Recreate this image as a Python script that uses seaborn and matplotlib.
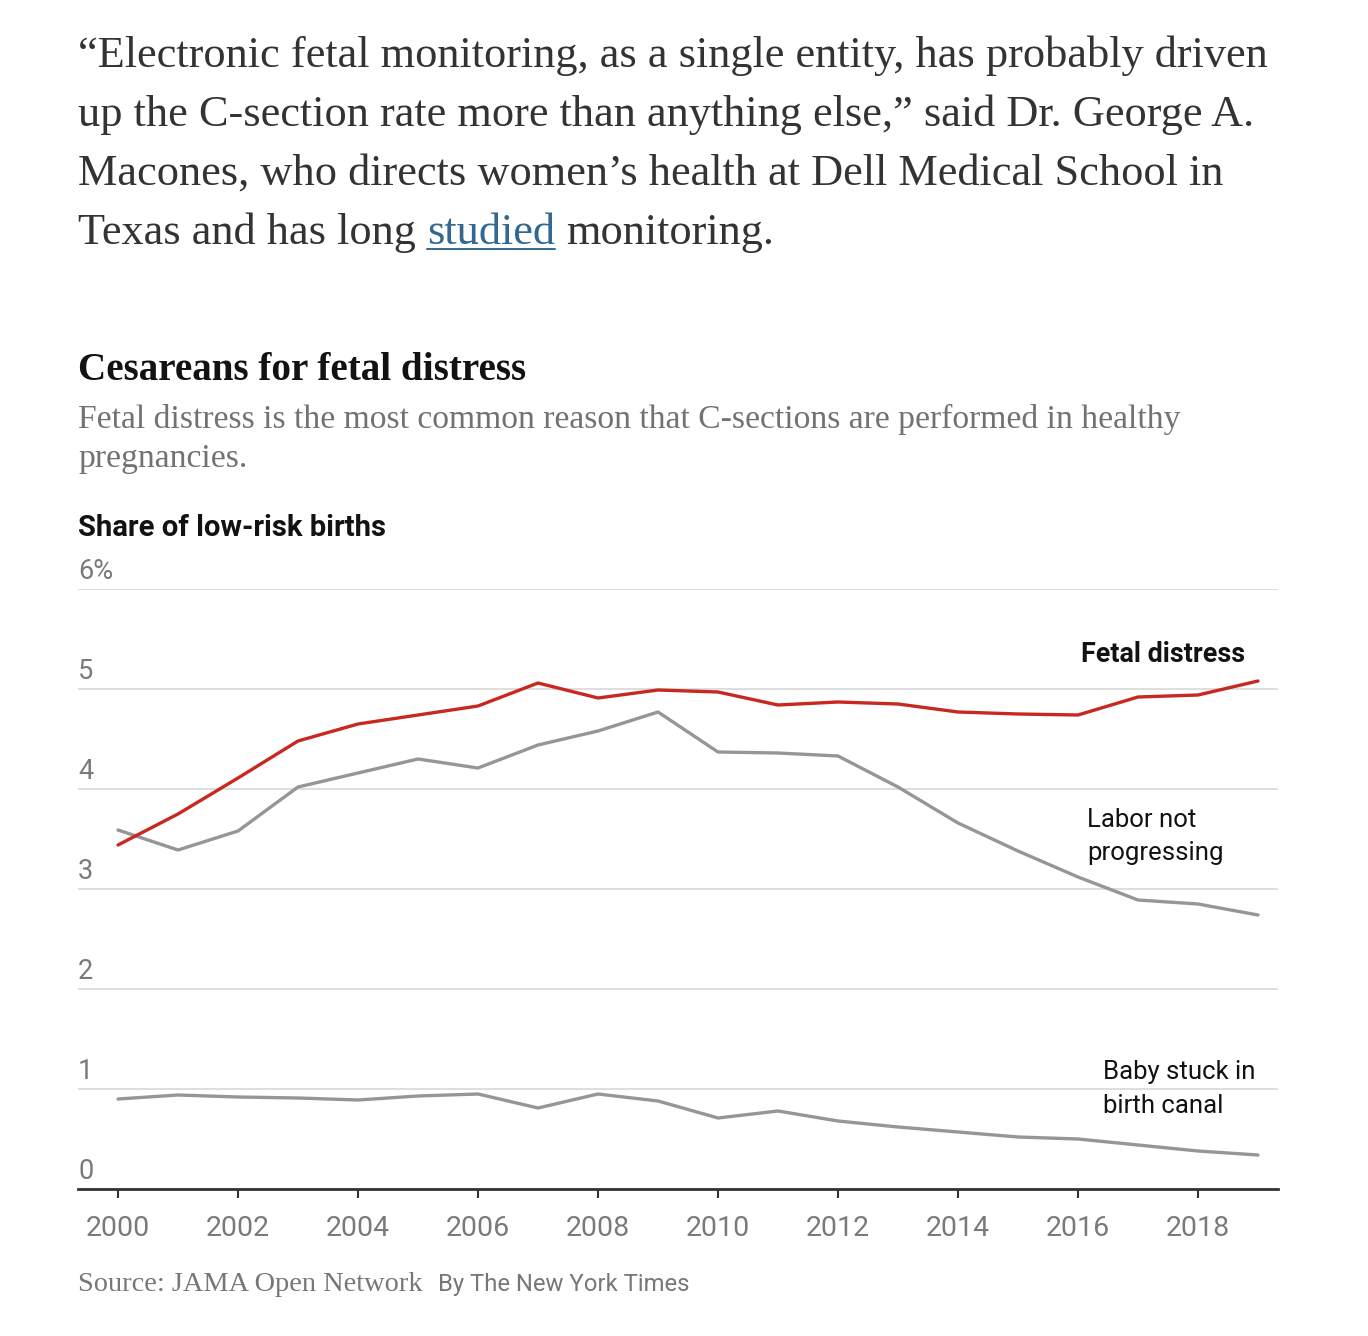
import pandas as pd
import seaborn as sns
import matplotlib.pyplot as plt
from matplotlib.transforms import blended_transform_factory

# values (share of low-risk births, %)
years = list(range(2000, 2020))
fetal_distress = [3.44, 3.75, 4.11, 4.48, 4.65, 4.74, 4.83, 5.06, 4.91, 4.99,
                  4.97, 4.84, 4.87, 4.85, 4.77, 4.75, 4.74, 4.92, 4.94, 5.08]
labor_not_progressing = [3.59, 3.39, 3.58, 4.02, 4.16, 4.30, 4.21, 4.44, 4.58, 4.77,
                         4.37, 4.36, 4.33, 4.02, 3.66, 3.38, 3.12, 2.89, 2.85, 2.74]
baby_stuck = [0.90, 0.94, 0.92, 0.91, 0.89, 0.93, 0.95, 0.81, 0.95, 0.88,
              0.71, 0.78, 0.68, 0.62, 0.57, 0.52, 0.50, 0.44, 0.38, 0.34]

y_ticks = [0, 1, 2, 3, 4, 5, 6]
y_tick_labels = ["0", "1", "2", "3", "4", "5", "6%"]
x_ticks = list(range(2000, 2019, 2))

quote_lines = [
    "\u201cElectronic fetal monitoring, as a single entity, has probably driven",
    "up the C-section rate more than anything else,\u201d said Dr. George A.",
    "Macones, who directs women\u2019s health at Dell Medical School in",
]
quote_last = ["Texas and has long", "studied", "monitoring."]
title = "Cesareans for fetal distress"
subtitle = ["Fetal distress is the most common reason that C-sections are performed in healthy",
            "pregnancies."]

df = pd.DataFrame({"year": years,
                   "Baby stuck in\nbirth canal": baby_stuck,
                   "Labor not\nprogressing": labor_not_progressing,
                   "Fetal distress": fetal_distress})
df = df.melt(id_vars="year", var_name="reason", value_name="share")

sns.set_style("white")
SERIF = ["Liberation Serif", "DejaVu Serif"]
SANS = ["Roboto", "DejaVu Sans"]
plt.rcParams["font.family"] = SANS

W, H = 1368, 1336
fig = plt.figure(figsize=(W / 100, H / 100), dpi=100)
renderer = fig.canvas.get_renderer()


def px(x, y):
    return x / W, 1 - y / H


def fit(t, width):
    w = t.get_window_extent(renderer).width
    t.set_fontsize(t.get_fontsize() * width / w)


# quote above the chart
q = fig.text(*px(78, 67), quote_lines[0], family=SERIF, fontsize=28, color="#333333")
fit(q, 1190)
qs = q.get_fontsize()
for i, line in enumerate(quote_lines[1:]):
    fig.text(*px(78, 67 + 59 * (i + 1)), line, family=SERIF, fontsize=qs, color="#333333")
space = 0.25 * qs * 100 / 72
t1 = fig.text(*px(78, 244), quote_last[0], family=SERIF, fontsize=qs, color="#333333")
x1 = t1.get_window_extent(renderer).x1 + space
t2 = fig.text(x1 / W, 1 - 244 / H, quote_last[1], family=SERIF, fontsize=qs, color="#326891")
bb = t2.get_window_extent(renderer)
fig.add_artist(plt.Line2D([bb.x0 / W, bb.x1 / W], [1 - 249 / H] * 2, color="#326891", lw=1.4))
fig.text((bb.x1 + space) / W, 1 - 244 / H, quote_last[2], family=SERIF, fontsize=qs, color="#333333")

# chart title and subtitle
t = fig.text(*px(78, 380), title, family=SERIF, weight="bold", fontsize=24, color="#121212")
fit(t, 450)
s = fig.text(*px(78, 428), subtitle[0], family=SERIF, fontsize=20, color="#727272")
fit(s, 1100)
fig.text(*px(78, 467), subtitle[1], family=SERIF, fontsize=s.get_fontsize(), color="#727272")

t = fig.text(*px(78, 536), "Share of low-risk births", weight="bold",
             fontsize=20, color="#121212")
fit(t, 307)

# the chart itself
ax = fig.add_axes([78 / W, 1 - 1189 / H, 1200 / W, 600 / H])
palette = {"Fetal distress": "#c8281f",
           "Labor not\nprogressing": "#969696",
           "Baby stuck in\nbirth canal": "#969696"}
sns.lineplot(data=df, x="year", y="share", hue="reason", palette=palette,
             hue_order=["Baby stuck in\nbirth canal", "Labor not\nprogressing", "Fetal distress"],
             linewidth=2.4, legend=False, ax=ax)

ax.set_xlim(1999 + 1 / 3, 2019 + 1 / 3)
ax.set_ylim(0, 6)
ax.set_yticks(y_ticks)
ax.set_xticks(x_ticks)
ax.set_xticklabels([str(x) for x in x_ticks])
ax.set_axisbelow(True)
ax.grid(axis="y", color="#dedede", lw=1.4)
ax.tick_params(axis="y", length=0, labelleft=False)
ax.tick_params(axis="x", bottom=True, direction="out", length=6.5, width=1.5,
               color="#333333", pad=12, labelsize=20.5, labelcolor="#7a7a7a")
for sp in ["left", "right", "top"]:
    ax.spines[sp].set_visible(False)
ax.spines["bottom"].set_color("#333333")
ax.spines["bottom"].set_linewidth(2)
ax.set_xlabel("")
ax.set_ylabel("")

trans = blended_transform_factory(ax.transAxes, ax.transData)
for v, lab in zip(y_ticks, y_tick_labels):
    ax.text(0, v + 0.1, lab, transform=trans, va="baseline", ha="left",
            fontsize=19.5, color="#7a7a7a")

# direct labels
t = fig.text(*px(1245, 662), "Fetal distress", weight="bold",
             fontsize=19, color="#121212", ha="right")
fit(t, 164)
fig.text(*px(1087, 827), "Labor not", fontsize=18.5, color="#121212")
fig.text(*px(1087, 860), "progressing", fontsize=18.5, color="#121212")
fig.text(*px(1103, 1079), "Baby stuck in", fontsize=18.5, color="#121212")
fig.text(*px(1103, 1113), "birth canal", fontsize=18.5, color="#121212")

# source line
src = fig.text(*px(78, 1291), "Source: JAMA Open Network", family=SERIF, fontsize=17, color="#777777")
fit(src, 344)
by = fig.text(*px(438, 1291), "By The New York Times", fontsize=17, color="#777777")
fit(by, 252)

fig.savefig("out.png", dpi=100)
